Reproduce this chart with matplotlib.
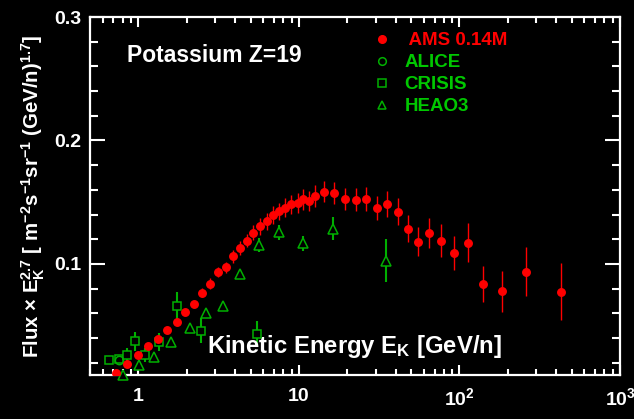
import numpy as np
import matplotlib
matplotlib.use('Agg')
import matplotlib.pyplot as plt
from matplotlib.ticker import LogLocator, MultipleLocator, FuncFormatter, NullFormatter

# AMS 0.14M potassium (flux x E^2.7)
ams_e = [0.724, 0.852, 0.989, 1.146, 1.323, 1.511, 1.730, 1.957, 2.208, 2.497,
         2.802, 3.116, 3.494, 3.864, 4.290, 4.743, 5.192, 5.715, 6.292, 6.855,
         7.536, 8.216, 8.954, 9.81, 10.64, 11.59, 12.64, 14.25, 16.6, 19.43,
         22.65, 26.26, 30.62, 35.5, 41.2, 47.8, 55.4, 64.8, 76.7, 92.0,
         112.5, 140.7, 184, 261, 430]
ams_flux = [0.0116, 0.0187, 0.0260, 0.0333, 0.0393, 0.0466, 0.0531, 0.0607, 0.0677, 0.0767,
            0.0840, 0.0932, 0.0972, 0.1062, 0.1130, 0.1187, 0.1253, 0.1305, 0.1344, 0.1398,
            0.1425, 0.1455, 0.1485, 0.1496, 0.1523, 0.1507, 0.1550, 0.1585, 0.1574, 0.1525,
            0.1520, 0.1523, 0.1450, 0.1485, 0.1423, 0.1285, 0.1181, 0.1249, 0.1189, 0.1086,
            0.1173, 0.0837, 0.0777, 0.0935, 0.0775]
ams_err = [0.0015, 0.0015, 0.0015, 0.0015, 0.0015, 0.0015, 0.0015, 0.0015, 0.0015, 0.0034,
           0.0043, 0.0040, 0.0043, 0.0054, 0.0055, 0.0054, 0.0063, 0.0067, 0.0072, 0.0075,
           0.0072, 0.0077, 0.0077, 0.0081, 0.0084, 0.0081, 0.0089, 0.0087, 0.0088, 0.0089,
           0.0092, 0.0096, 0.0098, 0.0104, 0.0111, 0.0108, 0.0115, 0.0124, 0.0132, 0.0137,
           0.0161, 0.0149, 0.0163, 0.0198, 0.0229]

alice_e = [0.756]
alice_flux = [0.0222]

crisis_e = [0.652, 0.753, 0.852, 0.951, 1.103, 1.342, 1.738, 2.462, 5.50]
crisis_flux = [0.0220, 0.0228, 0.0263, 0.0374, 0.0263, 0.0366, 0.0661, 0.0458, 0.0431]
crisis_err = [0.002, 0.002, 0.0057, 0.0077, 0.0054, 0.0072, 0.0111, 0.0102, 0.0106]

heao_e = [0.804, 1.003, 1.254, 1.606, 2.102, 2.645, 3.376, 4.31, 5.61, 7.51, 10.64, 16.2, 35.0]
heao_flux = [0.0100, 0.0181, 0.0249, 0.0371, 0.0480, 0.0604, 0.0659, 0.0919, 0.1153, 0.1257,
             0.1167, 0.1285, 0.1027]
heao_err = [0.001, 0.002, 0.002, 0.002, 0.002, 0.002, 0.002, 0.002, 0.0055, 0.0061,
            0.0063, 0.0095, 0.0176]

plt.rcParams['font.family'] = ['Liberation Sans', 'DejaVu Sans']
plt.rcParams['font.weight'] = 'bold'
plt.rcParams['mathtext.fontset'] = 'custom'
plt.rcParams['mathtext.rm'] = 'Liberation Sans:bold'
plt.rcParams['mathtext.bf'] = 'Liberation Sans:bold'
plt.rcParams['mathtext.it'] = 'Liberation Sans:bold'
plt.rcParams['mathtext.sf'] = 'Liberation Sans:bold'

green = '#00c800'
dkgreen = '#00b000'

fig = plt.figure(figsize=(6.34, 4.19), dpi=100, facecolor='black')
ax = fig.add_axes([0.142, 0.105, 0.836, 0.8544])
ax.set_facecolor('black')

ax.errorbar(crisis_e, crisis_flux, yerr=crisis_err, fmt='none', ecolor=dkgreen, elinewidth=1.5, zorder=2)
ax.plot(crisis_e, crisis_flux, 's', mfc='black', mec=dkgreen, mew=1.1, ms=6.3, label='CRISIS', zorder=3)
ax.errorbar(heao_e, heao_flux, yerr=heao_err, fmt='none', ecolor=dkgreen, elinewidth=1.5, zorder=2)
ax.plot(heao_e, heao_flux, '^', mfc='black', mec=dkgreen, mew=1.1, ms=6.5, label='HEAO3',
        zorder=3, clip_on=False)
ax.plot(alice_e, alice_flux, 'o', mfc='none', mec=dkgreen, mew=1.1, ms=6, label='ALICE', zorder=3)
ax.errorbar(ams_e, ams_flux, yerr=ams_err, fmt='none', ecolor='red', elinewidth=1.0, zorder=4)
ax.plot(ams_e, ams_flux, 'o', color='red', ms=5.4, label=' AMS 0.14M', zorder=5)

ax.set_xscale('log')
ax.set_xlim(0.5, 1000)
ax.set_ylim(0.01, 0.3)

def xfmt(v, pos):
    n = int(round(np.log10(v)))
    if n <= 1:
        return str(int(round(v)))
    return r'$10^{%d}$' % n

ax.xaxis.set_major_locator(LogLocator(base=10, numticks=10))
ax.xaxis.set_minor_locator(LogLocator(base=10, subs=np.arange(2, 10), numticks=20))
ax.xaxis.set_major_formatter(FuncFormatter(xfmt))
ax.xaxis.set_minor_formatter(NullFormatter())
ax.yaxis.set_major_locator(MultipleLocator(0.1))
ax.yaxis.set_minor_locator(MultipleLocator(0.02))
ax.yaxis.set_major_formatter(FuncFormatter(lambda v, p: '%.1f' % v))

for s in ax.spines.values():
    s.set_color('white')
    s.set_linewidth(1.6)
ax.tick_params(which='both', direction='in', top=True, right=True, colors='white',
               width=1.5, labelsize=14)
ax.tick_params(axis='y', which='major', length=11, pad=6)
ax.tick_params(axis='y', which='minor', length=5.5)
ax.tick_params(axis='x', which='major', length=7.5, pad=9)
ax.tick_params(axis='x', which='minor', length=4)
for lab in ax.get_xticklabels() + ax.get_yticklabels():
    lab.set_fontweight('bold')

ax.set_ylabel(r'Flux $\times$ E$_{\mathbf{K}}^{\mathbf{2.7}}$ [ m$^{\mathbf{-2}}$s$^{\mathbf{-1}}$sr$^{\mathbf{-1}}$ (GeV/n)$^{\mathbf{1.7}}$]',
              color='white', fontsize=14.7, fontweight='bold')
ax.yaxis.set_label_coords(-0.081, 0.5)

ax.text(0.221, 0.0615, r'Kinetic Energy E$_{\mathbf{K}}$ [GeV/n]', transform=ax.transAxes,
        color='white', fontsize=17.2, fontweight='bold', va='baseline', ha='left', zorder=10)
ax.text(0.0698, 0.874, 'Potassium Z=19', transform=ax.transAxes,
        color='white', fontsize=16.5, fontweight='bold', va='baseline', ha='left', zorder=10)

handles, labels = ax.get_legend_handles_labels()
order = [labels.index(' AMS 0.14M'), labels.index('ALICE'), labels.index('CRISIS'), labels.index('HEAO3')]
leg = ax.legend([handles[i] for i in order], [labels[i] for i in order],
                loc='upper left', bbox_to_anchor=(0.533, 0.958), frameon=False,
                borderpad=0, borderaxespad=0, handlelength=1.0, handletextpad=0.7,
                labelspacing=0.26, prop={'size': 13.5, 'weight': 'bold'})
for txt, c in zip(leg.get_texts(), ['red', green, green, green]):
    txt.set_color(c)
for h in leg.legend_handles:
    h.set_markersize(5.5)

fig.savefig('out.png', dpi=100, facecolor='black')
